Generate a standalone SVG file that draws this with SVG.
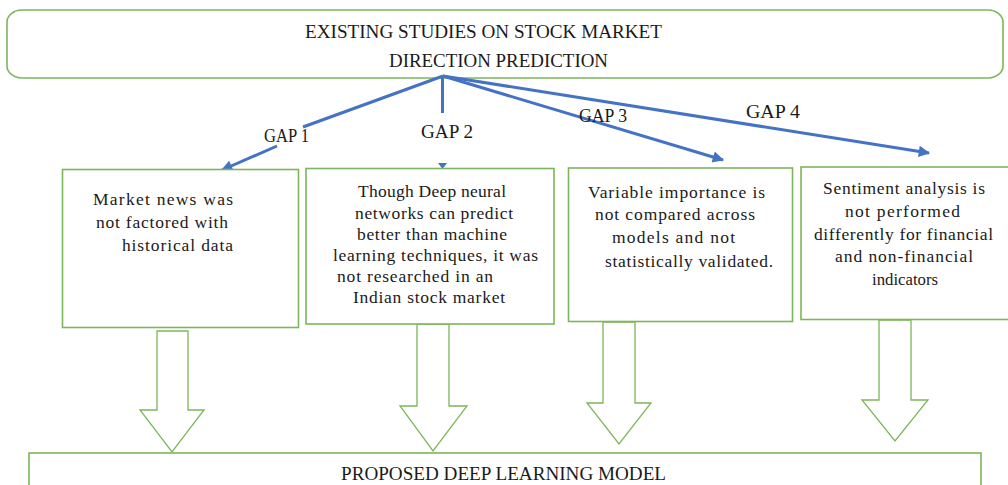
<svg xmlns="http://www.w3.org/2000/svg" width="1008" height="485" viewBox="0 0 1008 485">
  <style>
    .box { fill: #ffffff; stroke: #7db65a; stroke-width: 1.6; }
    .blk { fill: #ffffff; stroke: #7db65a; stroke-width: 1.3; stroke-linejoin: miter; }
    .t { font-family: "Liberation Serif", "Times New Roman", serif; font-size: 17.5px; fill: #1a1a1a; }
    .h { font-family: "Liberation Serif", "Times New Roman", serif; font-size: 19px; fill: #1a1a1a; }
    .g { font-family: "Liberation Serif", "Times New Roman", serif; font-size: 18px; fill: #1a1a1a; }
    .c { fill: none; stroke: #4472c4; stroke-width: 3; }
  </style>
  <defs>
    <marker id="ah" viewBox="0 0 10 10" refX="9" refY="5" markerWidth="4.5" markerHeight="3.8" orient="auto" markerUnits="strokeWidth">
      <path d="M0,0 L10,5 L0,10 z" fill="#4472c4"/>
    </marker>
  </defs>
  <rect width="1008" height="485" fill="#ffffff"/>

  <g id="top">
    <rect class="box" x="7" y="10" width="996" height="68" rx="15" ry="12"/>
    <text class="h" x="305" y="38" textLength="357" lengthAdjust="spacingAndGlyphs">EXISTING STUDIES ON STOCK MARKET</text>
    <text class="h" x="389" y="67" textLength="219" lengthAdjust="spacingAndGlyphs">DIRECTION PREDICTION</text>
  </g>

  <g id="connectors">
    <line class="c" x1="443" y1="76" x2="303" y2="127"/>
    <line class="c" x1="277" y1="146" x2="222" y2="170" marker-end="url(#ah)"/>
    <line class="c" x1="442.5" y1="76" x2="442.5" y2="113"/>
    <polygon points="438,163 447,163 442.5,169" fill="#4472c4"/>
    <line class="c" x1="443" y1="76" x2="723" y2="160" marker-end="url(#ah)"/>
    <line class="c" x1="443" y1="76" x2="929" y2="153" marker-end="url(#ah)"/>
    <text class="g" x="264" y="142" textLength="45" lengthAdjust="spacingAndGlyphs">GAP 1</text>
    <text class="g" x="421" y="138" textLength="52" lengthAdjust="spacingAndGlyphs">GAP 2</text>
    <text class="g" x="579" y="122" textLength="48" lengthAdjust="spacingAndGlyphs">GAP 3</text>
    <text class="g" x="746" y="118" textLength="54" lengthAdjust="spacingAndGlyphs">GAP 4</text>
    <polygon class="blk" points="157,331 188,331 188,410 204,410 172,452 140,410 157,410"/>
    <polygon class="blk" points="417,324 449,324 449,406 467,406 433,451 400,406 417,406"/>
    <polygon class="blk" points="603,322 635,322 635,403 651,403 619,444 587,403 603,403"/>
    <polygon class="blk" points="879,320 911,320 911,400 928,400 895,441 862,400 879,400"/>
  </g>

  <g id="gap1">
    <rect class="box" x="62.5" y="169.5" width="236" height="158"/>
    <text class="t" x="93" y="205" textLength="140" lengthAdjust="spacing">Market news  was</text>
    <text class="t" x="96" y="228" textLength="132" lengthAdjust="spacing">not factored with</text>
    <text class="t" x="122" y="251" textLength="111" lengthAdjust="spacing">historical data</text>
  </g>

  <g id="gap2">
    <rect class="box" x="306" y="168.5" width="248" height="155.5"/>
    <text class="t" x="358" y="197" textLength="148" lengthAdjust="spacing">Though Deep neural</text>
    <text class="t" x="355" y="219" textLength="158" lengthAdjust="spacing">networks can predict</text>
    <text class="t" x="357" y="240" textLength="150" lengthAdjust="spacing">better than machine</text>
    <text class="t" x="333" y="261" textLength="205" lengthAdjust="spacing">learning techniques, it was</text>
    <text class="t" x="337" y="282" textLength="156" lengthAdjust="spacing">not researched in an</text>
    <text class="t" x="353" y="303" textLength="152" lengthAdjust="spacing">Indian stock market</text>
  </g>

  <g id="gap3">
    <rect class="box" x="568.5" y="168" width="224" height="153.5"/>
    <text class="t" x="588" y="198" textLength="177" lengthAdjust="spacing">Variable importance is</text>
    <text class="t" x="595" y="220" textLength="160" lengthAdjust="spacing">not compared across</text>
    <text class="t" x="612" y="243" textLength="123" lengthAdjust="spacing">models and not</text>
    <text class="t" x="605" y="267" textLength="168" lengthAdjust="spacing">statistically validated.</text>
  </g>

  <g id="gap4">
    <rect class="box" x="801" y="167" width="212" height="152.5"/>
    <text class="t" x="823" y="194" textLength="162" lengthAdjust="spacing">Sentiment analysis is</text>
    <text class="t" x="845" y="217" textLength="115" lengthAdjust="spacing">not performed</text>
    <text class="t" x="814" y="240" textLength="179" lengthAdjust="spacing">differently for financial</text>
    <text class="t" x="835" y="262" textLength="138" lengthAdjust="spacing">and non-financial</text>
    <text class="t" x="872" y="285" textLength="66" lengthAdjust="spacingAndGlyphs">indicators</text>
  </g>

  <g id="proposed">
    <rect class="box" x="29" y="453" width="952" height="45"/>
    <text class="g" x="341" y="480" textLength="325" lengthAdjust="spacingAndGlyphs">PROPOSED  DEEP LEARNING MODEL</text>
  </g>
</svg>
